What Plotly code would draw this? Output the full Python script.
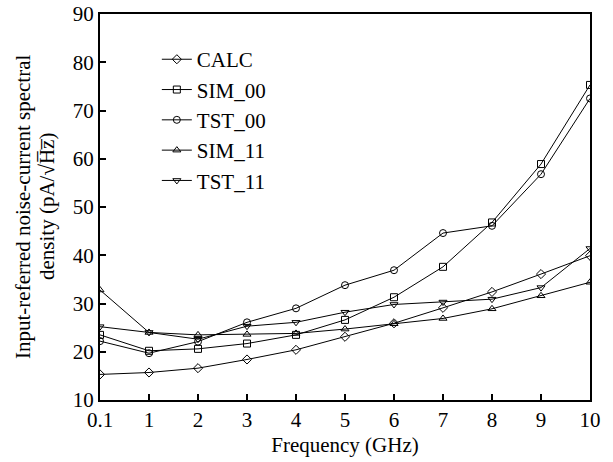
import plotly.graph_objects as go

freq = ["0.1", "1", "2", "3", "4", "5", "6", "7", "8", "9", "10"]
calc = [15.3, 15.7, 16.6, 18.4, 20.4, 23.1, 25.9, 29.1, 32.4, 36.1, 39.9]
sim_00 = [23.5, 20.2, 20.6, 21.7, 23.5, 26.6, 31.3, 37.6, 46.8, 58.9, 75.3]
tst_00 = [22.2, 19.7, 22.1, 26.1, 29.0, 33.8, 36.9, 44.6, 46.1, 56.8, 72.5]
sim_11 = [32.8, 24.0, 23.5, 23.6, 23.8, 24.7, 25.8, 26.9, 28.9, 31.6, 34.4]
tst_11 = [25.2, 24.0, 22.6, 25.3, 26.1, 28.2, 29.8, 30.3, 30.9, 33.3, 41.4]
y_ticks = [10, 20, 30, 40, 50, 60, 70, 80, 90]
y_title_lines = ["Input-referred noise-current spectral",
                 "density (pA/\u221aH\u0305z\u0305)"]

series = [
    ("CALC", calc, "diamond-open"),
    ("SIM_00", sim_00, "square-open"),
    ("TST_00", tst_00, "circle-open"),
    ("SIM_11", sim_11, "triangle-up-open"),
    ("TST_11", tst_11, "triangle-down-open"),
]

font = "Liberation Serif, Times New Roman, serif"
fig = go.Figure()
for name, vals, sym in series:
    fig.add_trace(go.Scatter(
        x=freq, y=vals, name=name, mode="lines+markers",
        line=dict(color="black", width=1),
        marker=dict(symbol=sym, size=7, color="black", line=dict(width=1, color="black")),
    ))

fig.update_layout(
    width=613, height=462,
    margin=dict(l=100, r=23, t=14, b=62),
    paper_bgcolor="white", plot_bgcolor="white",
    font=dict(family=font, size=21, color="black"),
    showlegend=True,
    legend=dict(x=0.116, y=0.935, xanchor="left", yanchor="top",
                bgcolor="rgba(0,0,0,0)", font=dict(size=21, family=font),
                itemwidth=30, tracegroupgap=0),
)
for text, shift in zip(y_title_lines, [-77, -53]):
    fig.add_annotation(text=text, xref="paper", yref="paper", x=0, y=0.5,
                       xanchor="center", yanchor="middle", xshift=shift,
                       textangle=-90, showarrow=False,
                       font=dict(size=21, family=font, color="black"))
fig.update_xaxes(
    type="category", range=[0, 10], automargin=False,
    showline=True, linecolor="black", linewidth=2, mirror=True,
    ticks="inside", ticklen=6, tickcolor="black", tickwidth=1.5,
    showgrid=False, zeroline=False,
    tickfont=dict(size=21, family=font),
    title=dict(text="Frequency (GHz)", font=dict(size=21, family=font), standoff=6),
)
fig.update_yaxes(
    range=[10, 90], tickvals=y_ticks, automargin=False, ticklabeloverflow="allow",
    showline=True, linecolor="black", linewidth=2, mirror=True,
    ticks="inside", ticklen=6, tickcolor="black", tickwidth=1.5,
    showgrid=False, zeroline=False,
    tickfont=dict(size=21, family=font),
)
fig.write_html("out.html", config={"displayModeBar": False},
               post_script="document.body.style.margin='0';")
